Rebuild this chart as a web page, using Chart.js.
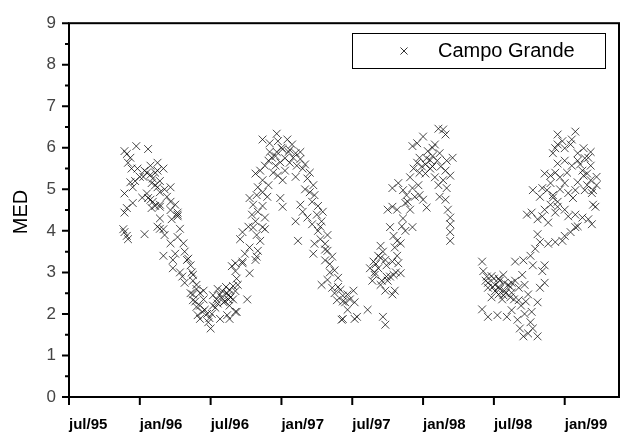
<!DOCTYPE html>
<html>
<head>
<meta charset="utf-8">
<script src="https://cdn.jsdelivr.net/npm/chart.js@4.4.1/dist/chart.umd.min.js"></script>
<style>
  html, body { margin: 0; padding: 0; background: #fff; }
  #wrap { width: 628px; height: 440px; }
</style>
</head>
<body>
<div id="wrap"><canvas id="chart" width="628" height="440"></canvas></div>
<script>
// x = months since jul/95, y = MED
const seriesLabel = "Campo Grande";
const axisTitle = "MED";

const tickMonths = [0, 6, 12, 18, 24, 30, 36, 42];
const tickLabels = ["jul/95", "jan/96", "jul/96", "jan/97", "jul/97", "jan/98", "jul/98", "jan/99"];
const medTicks = [0, 1, 2, 3, 4, 5, 6, 7, 8, 9];

// 1995/96 season
const monthsSeason1 = [4.7, 4.9, 5.2, 5.7, 5.0, 5.3, 5.2, 5.6, 5.4, 4.7, 5.4, 4.9, 4.7, 6.7, 6.6, 6.9, 7.1, 7.5, 7.5, 8.0, 7.3, 6.6, 6.7, 7.1, 7.7, 8.3, 8.6, 8.6, 9.0, 9.2, 7.7, 7.0,
  4.7, 5.0, 6.4, 7.7, 8.0, 8.8, 8.8, 9.6, 9.4, 9.2, 9.7, 9.8, 10.0, 10.3, 10.4, 10.5, 10.8, 11.1, 10.5, 10.8, 10.9, 11.3, 11.5, 11.8, 12.0, 11.1,
  7.5, 8.0, 8.7, 9.2, 4.6, 4.9, 6.9, 7.7, 8.6, 9.2, 10.1, 10.5, 10.8, 11.4, 10.5,
  6.3, 6.4, 6.9, 7.3, 7.7, 8.1, 7.5, 7.0,
  10.7, 11.1, 11.4, 11.7, 11.9, 10.3, 9.8, 9.4, 9.0, 8.6, 8.1, 7.7, 7.3, 6.0, 5.8, 6.2];
const medSeason1 = [5.92, 5.85, 5.76, 6.04, 5.64, 5.5, 5.17, 5.2, 5.05, 4.9, 4.67, 4.55, 4.44, 5.97, 5.4, 5.57, 5.26, 5.64, 5.45, 5.5, 5.1, 4.9, 4.79, 4.7, 4.93, 4.82, 5.05, 4.7, 4.63, 4.39, 4.63, 4.55,
  3.97, 3.8, 3.92, 4.05, 3.4, 3.3, 3.1, 2.9, 4.05, 3.85, 3.7, 3.5, 3.3, 3.17, 3.0, 2.8, 2.6, 2.5, 2.33, 2.17, 1.97, 2.05, 2.1, 1.8, 1.65, 1.88,
  4.1, 4.04, 4.28, 4.35, 4.04, 3.88, 4.75, 4.58, 4.5, 4.44, 3.33, 2.94, 2.7, 2.56, 2.47,
  5.3, 5.45, 5.35, 5.4, 5.2, 5.0, 5.05, 5.15,
  2.3, 2.2, 2.35, 2.0, 1.9, 2.5, 2.75, 3.0, 3.45, 3.7, 3.9, 4.3, 4.6, 5.3, 5.5, 4.8];

// 1996/97 season
const monthsSeason2 = [12.2, 12.5, 12.8, 13.1, 13.4, 13.6, 13.9, 13.6, 13.4, 12.8, 14.2, 13.9, 15.1, 13.8, 14.1, 14.7, 15.3, 15.8, 16.0, 16.2, 14.5, 14.7, 15.6, 16.6,
  12.6, 12.9, 13.2, 13.5, 12.4, 12.1, 14.1, 14.3,
  14.1, 14.7, 15.9, 15.2, 15.5, 15.8, 16.0, 16.4, 16.6, 15.6, 15.3, 15.9, 16.0, 16.4, 16.8, 15.8, 16.2, 16.4, 16.6, 16.9,
  17.2, 16.4, 17.0, 17.6, 17.7, 18.1, 18.5, 18.9, 19.2, 17.5, 17.7, 18.1, 18.3, 18.7, 19.0, 19.3, 19.6, 19.8, 20.2, 20.4,
  20.7, 20.8, 19.6, 19.8, 20.2, 20.6, 21.0, 21.4, 21.5, 17.9, 18.1, 19.4, 19.2, 20.8, 20.7, 21.3, 21.7, 21.9, 22.3, 21.7,
  21.4, 21.9, 22.5, 22.8, 23.0, 23.2, 22.7, 22.3, 23.1, 23.4,
  17.0, 17.5, 17.9, 18.3, 18.6, 19.2, 20.0, 21.1, 21.3, 21.9, 22.1, 22.5, 13.5, 14.1, 13.6,
  12.2, 12.6, 13.0, 13.3, 13.7, 14.2, 14.9, 15.3, 15.9, 16.4, 16.9, 17.3, 17.6, 18.0, 18.7, 19.6, 20.0, 20.4, 20.6, 21.1, 21.7, 22.1, 22.8, 23.2];
const medSeason2 = [2.2, 2.35, 2.47, 2.28, 2.5, 2.58, 2.67, 2.2, 1.97, 1.88, 2.05, 2.35, 2.35, 3.15, 3.03, 3.22, 2.98, 3.3, 3.52, 3.76, 3.8, 3.97, 4.08, 4.04,
  2.6, 2.4, 2.3, 2.45, 2.15, 2.0, 2.55, 2.7,
  3.22, 3.26, 3.38, 4.1, 4.39, 4.23, 4.46, 4.09, 4.32, 4.63, 4.79, 4.86, 5.05, 4.93, 4.82, 5.38, 5.45, 5.22, 5.57, 5.69,
  5.76, 6.2, 6.11, 6.34, 6.16, 5.97, 6.2, 6.08, 5.87, 5.57, 5.33, 5.22, 5.45, 5.64, 5.76, 5.57, 5.73, 5.5, 5.26, 4.93,
  5.1, 4.86, 4.63, 4.46, 4.32, 4.16, 4.39, 4.23, 4.46, 4.79, 4.58, 3.76, 4.23, 3.69, 3.45, 3.8, 3.69, 3.52, 3.38, 3.29,
  2.7, 2.82, 3.05, 2.87, 2.58, 2.44, 2.33, 2.63, 1.86, 2.28,
  5.9, 5.8, 5.65, 5.75, 5.9, 5.3, 5.0, 4.6, 4.1, 3.9, 3.2, 2.5, 2.35, 2.05, 1.88,
  2.45, 2.25, 2.55, 2.65, 2.4, 2.85, 3.45, 3.6, 3.9, 4.6, 5.1, 5.4, 5.9, 6.0, 5.95, 5.9, 5.6, 5.4, 4.7, 4.0, 3.55, 3.0, 2.65, 2.3];

// 1997/98 season
const monthsSeason3 = [23.6, 24.1, 24.2, 24.4, 23.6, 23.2, 24.2, 25.3, 26.6, 26.8, 25.7, 25.9, 25.5, 25.8, 26.2, 26.4, 26.6, 26.9, 26.5, 26.8,
  27.0, 27.4, 27.6, 27.5, 27.4, 27.8, 27.9, 28.1, 27.2, 27.5, 27.8, 28.2, 28.5, 29.1, 27.0, 27.4, 27.8, 28.5, 28.9, 27.4,
  27.9, 28.3, 28.6, 29.1, 29.3, 29.7, 30.3, 30.0, 28.9, 29.2, 29.5, 29.7, 29.1, 29.5, 30.0, 30.4, 30.8, 31.0, 31.2, 31.4,
  31.3, 31.7, 31.9, 30.2, 30.6, 31.0, 31.3, 31.7, 32.0, 31.4, 31.9, 32.1, 32.3, 32.3, 32.3, 32.3, 32.0, 32.3, 32.5,
  25.9, 26.2, 26.4, 26.8, 27.2, 30.2, 30.6, 30.8, 29.7, 27.6, 28.1,
  23.8, 26.0, 26.4, 26.9, 27.7, 28.3, 28.7, 29.6, 29.9, 30.3, 30.8, 31.5, 31.9];
const medSeason3 = [2.47, 2.56, 2.28, 1.93, 2.1, 1.88, 1.88, 2.1, 1.93, 1.74, 2.8, 2.94, 3.1, 3.26, 3.4, 3.64, 3.5, 3.17, 2.8, 2.56,
  2.8, 2.47, 2.56, 2.94, 3.26, 3.4, 3.22, 2.98, 4.09, 3.88, 3.76, 4.11, 4.0, 4.09, 4.51, 4.58, 4.51, 4.67, 4.51, 5.03,
  5.15, 4.98, 4.86, 5.03, 4.82, 4.86, 4.56, 4.75, 5.29, 5.5, 5.64, 5.76, 6.04, 6.11, 6.27, 5.92, 5.8, 6.08, 5.69, 5.87,
  6.46, 6.44, 6.32, 5.38, 5.5, 5.29, 5.1, 5.22, 5.03, 4.82, 4.75, 4.51, 4.32, 4.16, 3.97, 3.76, 5.69, 5.33, 5.76,
  3.0, 3.1, 2.7, 3.3, 2.9, 5.6, 5.7, 5.55, 5.4, 3.6, 3.7,
  2.35, 3.2, 3.35, 2.9, 3.0, 4.3, 4.7, 5.1, 5.55, 5.75, 6.0, 5.55, 5.45];

// 1998/99 season
const monthsSeason4 = [35.0, 35.1, 35.3, 35.8, 35.5, 36.1, 36.5, 36.8, 37.2, 36.9, 36.4, 35.8, 36.7, 37.5, 37.8, 38.1, 38.6, 38.4, 37.8, 38.5,
  39.1, 39.3, 38.9, 38.1, 35.0, 35.5, 36.3, 37.1, 37.5, 38.0, 38.2, 38.5, 38.9, 39.3, 39.7, 38.6, 39.2, 39.7, 39.9, 40.3,
  40.1, 40.3, 39.5, 39.9, 39.7, 40.6, 41.2, 41.8, 42.0, 42.5, 42.9, 43.1, 38.8, 39.2, 39.7, 40.1, 40.3, 40.8, 41.2, 41.4,
  42.0, 42.3, 42.9, 43.5, 44.0, 44.3, 39.3, 39.9, 40.1, 40.5, 40.8, 41.0, 41.4, 40.3, 40.8, 41.2, 41.6, 42.0, 42.3, 42.7,
  42.9, 43.1, 43.6, 43.9, 44.2, 44.4, 44.6, 43.7, 41.4, 42.0, 42.6, 43.1, 43.5, 43.9, 44.2, 44.0, 43.6, 43.1, 42.5, 42.0,
  41.4, 41.8, 41.2, 41.0, 41.4, 42.9, 42.6, 44.3, 44.4,
  36.1, 36.5, 36.9, 37.4, 36.4, 35.9, 35.5, 37.4, 36.8, 44.7,
  35.4, 36.0, 36.4, 37.0, 37.5, 37.7, 38.3, 38.7, 39.1, 40.6, 41.0, 41.6, 42.2, 43.3, 43.7, 44.2, 44.7];
const medSeason4 = [3.26, 3.03, 2.8, 2.91, 2.63, 2.7, 2.8, 2.94, 2.7, 2.56, 2.47, 2.4, 2.35, 2.51, 2.8, 2.63, 2.7, 2.94, 3.26, 3.29,
  3.4, 3.17, 2.47, 2.33, 2.11, 1.93, 1.97, 1.93, 2.09, 1.86, 1.65, 1.46, 1.53, 1.65, 1.46, 2.0, 2.05, 2.28, 2.63, 2.75,
  3.03, 3.17, 3.57, 3.73, 3.92, 3.69, 3.73, 3.76, 3.88, 3.97, 4.09, 4.11, 4.39, 4.44, 4.28, 4.35, 4.51, 4.63, 4.44, 4.58,
  4.51, 4.35, 4.39, 4.32, 4.28, 4.16, 4.98, 4.82, 5.03, 4.98, 5.15, 4.86, 4.7, 5.38, 5.33, 5.4, 5.29, 5.15, 4.91, 4.79,
  4.98, 5.17, 5.33, 5.1, 5.22, 4.98, 4.58, 4.98, 5.62, 5.69, 5.57, 5.69, 5.45, 5.38, 5.57, 5.76, 5.99, 5.87, 6.08, 5.99,
  6.32, 6.16, 5.99, 5.87, 6.08, 6.39, 6.2, 4.91, 4.63,
  2.55, 2.6, 2.75, 2.65, 2.85, 2.65, 2.75, 2.4, 2.45, 5.3,
  2.9, 2.85, 2.65, 2.5, 2.75, 2.35, 2.2, 2.3, 1.8, 4.2, 4.8, 5.0, 5.4, 5.6, 5.75, 5.9, 5.1];

const seasons = [
  [monthsSeason1, medSeason1],
  [monthsSeason2, medSeason2],
  [monthsSeason3, medSeason3],
  [monthsSeason4, medSeason4],
];

const points = [];
seasons.forEach(function ([months, med]) {
  months.forEach(function (m, i) {
    points.push({ x: m, y: med[i] });
  });
});

const markColor = "rgba(0, 0, 0, 0.72)";
const fontFamily = '"Liberation Sans", Arial, Helvetica, sans-serif';

// frame, tick marks, legend box and rotated axis title
const framePlugin = {
  id: "frame",
  afterDatasetsDraw(chart) {
    const { ctx, chartArea: a, scales } = chart;
    const xs = scales.x;
    const ys = scales.y;
    ctx.save();
    ctx.strokeStyle = "#000";
    ctx.lineWidth = 2;
    ctx.strokeRect(a.left, a.top, a.right - a.left, a.bottom - a.top);

    ctx.beginPath();
    for (let v = 0; v <= 9; v += 0.5) {
      const py = ys.getPixelForValue(v);
      const len = v % 1 === 0 ? 7 : 4;
      ctx.moveTo(a.left - len, py);
      ctx.lineTo(a.left, py);
    }
    tickMonths.forEach(function (m) {
      const px = xs.getPixelForValue(m);
      ctx.moveTo(px, a.bottom);
      ctx.lineTo(px, a.bottom + 8);
    });
    ctx.stroke();

    // legend
    ctx.lineWidth = 1;
    ctx.strokeRect(352.5, 33.5, 253, 35);
    ctx.strokeStyle = "#333";
    Chart.helpers.drawPoint(ctx, { pointStyle: "crossRot", radius: 5, borderWidth: 1, rotation: 0 }, 404, 51);
    ctx.fillStyle = "#000";
    ctx.font = "20px " + fontFamily;
    ctx.textAlign = "left";
    ctx.textBaseline = "middle";
    ctx.fillText(chart.data.datasets[0].label, 438, 51);

    // y axis title
    ctx.translate(21, 212);
    ctx.rotate(-Math.PI / 2);
    ctx.textAlign = "center";
    ctx.font = "20px " + fontFamily;
    ctx.fillText(axisTitle, 0, 0);
    ctx.restore();
  },
};

const ctx = document.getElementById("chart").getContext("2d");
new Chart(ctx, {
  type: "scatter",
  data: {
    datasets: [
      {
        label: seriesLabel,
        data: points,
        pointStyle: "crossRot",
        pointRadius: 5.5,
        pointBorderWidth: 1,
        borderColor: markColor,
        backgroundColor: markColor,
      },
    ],
  },
  options: {
    responsive: false,
    animation: false,
    layout: { padding: { top: 14, right: 9, left: 0, bottom: 0 } },
    plugins: {
      legend: { display: false },
      tooltip: { enabled: false },
    },
    scales: {
      x: {
        type: "linear",
        min: 0,
        max: 46.6,
        afterBuildTicks: function (scale) {
          scale.ticks = tickMonths.map(function (v) { return { value: v }; });
        },
        afterFit: function (scale) { scale.height = 43; },
        grid: { display: false, drawTicks: false },
        border: { display: false },
        ticks: {
          align: "start",
          padding: 19,
          autoSkip: false,
          maxRotation: 0,
          color: "#000",
          font: { family: fontFamily, size: 15, weight: "bold" },
          callback: function (value, index) { return tickLabels[index]; },
        },
      },
      y: {
        min: 0,
        max: 9,
        afterBuildTicks: function (scale) {
          scale.ticks = medTicks.map(function (v) { return { value: v }; });
        },
        afterFit: function (scale) { scale.width = 69; },
        grid: { display: false, drawTicks: false },
        border: { display: false },
        ticks: {
          padding: 13,
          color: "#444",
          font: { family: fontFamily, size: 17 },
        },
      },
    },
  },
  plugins: [framePlugin],
});
</script>
</body>
</html>
